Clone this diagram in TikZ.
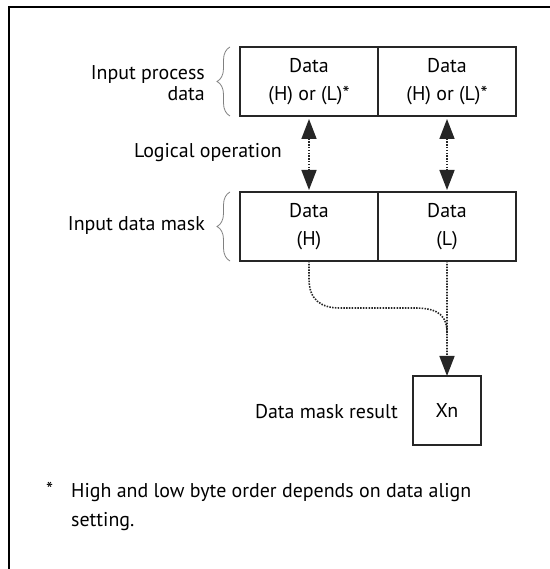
\documentclass[tikz,border=0pt]{standalone}
\usepackage{fontspec}
\setmainfont{PT Sans}
\usetikzlibrary{arrows.meta,positioning,calc,decorations.pathreplacing}

\tikzset{
  txt/.style={font=\fontsize{20}{21}\selectfont},
  cell/.style={font=\fontsize{20}{28}\selectfont,draw=black!85,line width=1.6bp,
    minimum width=138bp,minimum height=69bp,inner sep=0pt,outer sep=0pt,align=center},
  lbl/.style={txt,inner sep=0pt,align=right},
  brc/.style={decorate,decoration={brace,amplitude=13bp},draw=black!50,line width=0.8bp},
  link/.style={line width=1.6bp,dash pattern=on 1.5bp off 1.3bp,draw=black!85},
  head/.style={-{Triangle[length=20bp,width=15bp]}},
  twohead/.style={{Triangle[length=20bp,width=15bp]}-{Triangle[length=20bp,width=15bp]}}
}

\begin{document}
\begin{tikzpicture}[x=1bp,y=1bp]
  \useasboundingbox (0,0) rectangle (550,569);
  % frame (top and left only)
  \draw[line width=2bp] (550,562) -- (9,562) -- (9,0);

  % input process data
  \node[cell] (ipH) at (309,487.5) {Data\\(H) or (L)*};
  \node[cell,right=0pt of ipH] (ipL) {Data\\(H) or (L)*};
  % input data mask
  \node[cell,below=76bp of ipH] (maskH) {Data\\(H)};
  \node[cell,right=0pt of maskH] (maskL) {Data\\(L)};
  % result
  \node[cell,minimum width=68bp] (res) at (447,158.5) {Xn};

  % labels
  \node[lbl,anchor=east] (ipLbl) at (205,486) {Input process\\data};
  \node[lbl,anchor=east] (maskLbl) at (205,343) {Input data mask};
  \node[lbl] (opLbl) at (208,416) {Logical operation};
  \node[lbl,anchor=east] (resLbl) at (398,157) {Data mask result};

  % braces
  \draw[brc] ($(ipH.south west)+(-10,0)$) -- ($(ipH.north west)+(-10,0)$);
  \draw[brc] ($(maskH.south west)+(-10,0)$) -- ($(maskH.north west)+(-10,0)$);

  % logical operation arrows
  \draw[link,twohead,shorten <=3bp,shorten >=2bp] (ipH) -- (maskH);
  \draw[link,twohead,shorten <=3bp,shorten >=2bp] (ipL) -- (maskL);

  % mask result
  \coordinate (join) at (447,236);
  \draw[link] (maskH.south) -- ++(0,-18)
    .. controls +(0,-20) and +(-20,0) .. ++(31,-29) -- (415,261)
    .. controls (440,261) and (447,252) .. (join);
  \draw[link,head] (maskL) -- (res);

  % footnote
  \node[txt,inner sep=0pt,anchor=base west] (star) at (46,72) {*};
  \node[inner sep=0pt,anchor=base west,align=left,font=\fontsize{20}{30}\selectfont] (note) at (71,42)
    {High and low byte order depends on data align\\setting.};
\end{tikzpicture}
\end{document}
